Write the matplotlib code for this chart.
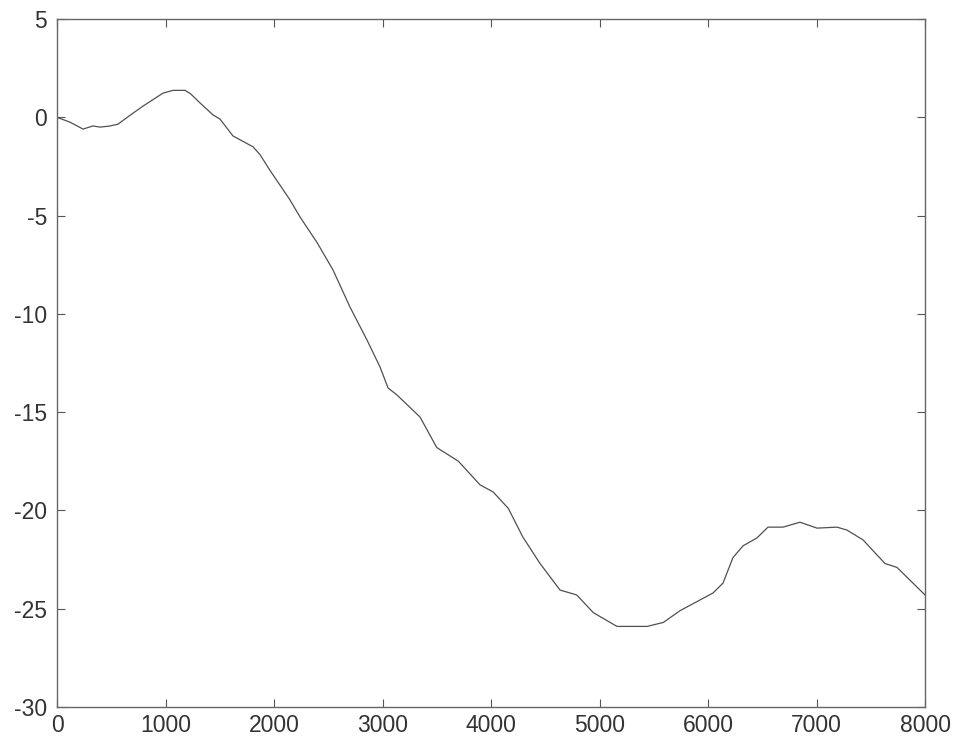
import matplotlib
matplotlib.use("Agg")
import matplotlib.pyplot as plt

x_vals = [0, 120, 240, 332, 396, 480, 562, 673, 793, 977, 1069, 1180, 1230, 1318, 1438, 1502,
          1622, 1806, 1871, 1963, 2147, 2240, 2400, 2544, 2700, 2857, 2977, 3051, 3134,
          3346, 3500, 3700, 3899, 4020, 4160, 4293, 4452, 4636, 4790, 4943, 5161, 5438,
          5588, 5742, 6046, 6138, 6230, 6323, 6451, 6553, 6691, 6848, 7005, 7189, 7281,
          7429, 7631, 7742, 8000]
y_vals = [0.0, -0.25, -0.6, -0.44, -0.5, -0.45, -0.35, 0.1, 0.57, 1.23, 1.37, 1.37, 1.2, 0.73,
          0.12, -0.09, -0.95, -1.5, -1.9, -2.7, -4.2, -5.07, -6.4, -7.77, -9.65, -11.33,
          -12.7, -13.77, -14.13, -15.25, -16.8, -17.5, -18.7, -19.06, -19.9, -21.35, -22.7,
          -24.05, -24.3, -25.2, -25.9, -25.9, -25.7, -25.1, -24.2, -23.7, -22.4, -21.8,
          -21.4, -20.85, -20.85, -20.6, -20.9, -20.85, -21.0, -21.5, -22.7, -22.9, -24.3]

x_ticks = [0, 1000, 2000, 3000, 4000, 5000, 6000, 7000, 8000]
y_ticks = [5, 0, -5, -10, -15, -20, -25, -30]

plt.rcParams['font.family'] = ['Liberation Sans', 'DejaVu Sans']

fig = plt.figure(figsize=(9.55, 7.38), dpi=100)
ax = fig.add_axes([57/955, 1 - 707/738, (925-57)/955, (707-19)/738])
ax.plot(x_vals, y_vals, color='#505050', linewidth=0.9)
ax.set_xlim(0, 8000)
ax.set_ylim(-30, 5)
ax.set_xticks(x_ticks)
ax.set_yticks(y_ticks)
ax.set_xticklabels([str(v) for v in x_ticks])
ax.set_yticklabels([str(v) for v in y_ticks])
ax.tick_params(direction='in', length=6, width=0.8, color='#555555',
               top=True, right=True, labelsize=16.5, labelcolor='#333333')
ax.tick_params(axis='x', pad=5)
ax.tick_params(axis='y', pad=7)
for s in ax.spines.values():
    s.set_color('#666666')
    s.set_linewidth(1.0)
fig.savefig('out.png', dpi=100, facecolor='white')
